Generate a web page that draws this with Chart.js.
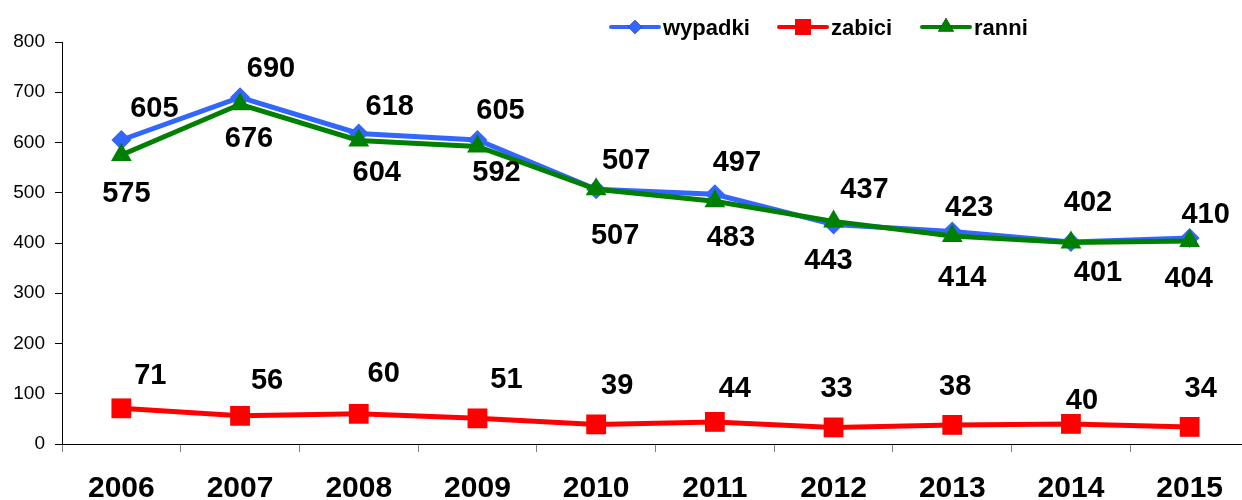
<!DOCTYPE html>
<html>
<head>
<meta charset="utf-8">
<script src="https://cdn.jsdelivr.net/npm/chart.js@4/dist/chart.umd.min.js"></script>
<style>
  html, body { margin: 0; padding: 0; background: #fff; overflow: hidden; }
  canvas { display: block; }
</style>
</head>
<body>
<canvas id="grafik" width="1251" height="500"></canvas>
<script>
var lata = ['2006', '2007', '2008', '2009', '2010', '2011', '2012', '2013', '2014', '2015'];
var wypadki = [605, 690, 618, 605, 507, 497, 437, 423, 402, 410];
var zabici = [71, 56, 60, 51, 39, 44, 33, 38, 40, 34];
var ranni = [575, 676, 604, 592, 507, 483, 443, 414, 401, 404];
var skalaY = [0, 100, 200, 300, 400, 500, 600, 700, 800];

var warna = {
	blue: '#3366FF',
	red: '#FF0000',
	green: '#008000'
};

// przesuniecia etykiet wzgledem punktow (px)
var przesun = [
	[[33,-32],[31,-29],[31,-27],[23,-30],[30,-29],[22,-32],[31,-35],[17,-24],[17,-40],[16,-24]],
	[[29,-33],[27,-36],[25,-41],[29,-39],[21,-39],[20,-34],[3,-39],[3,-39],[11,-24],[11,-39]],
	[[5,38],[9,34],[18,32],[19,25],[19,46],[16,36],[-5,39],[10,41],[27,30],[-1,37]]
];

var FONT = 'Arial, "Liberation Sans", sans-serif';

var etykiety = {
	id: 'etykiety',
	afterDatasetsDraw: function(chart) {
		var ctx = chart.ctx;
		ctx.save();
		ctx.fillStyle = '#000';
		ctx.font = 'bold 29px ' + FONT;
		ctx.textAlign = 'center';
		ctx.textBaseline = 'middle';
		chart.data.datasets.forEach(function(dataset, i) {
			var meta = chart.getDatasetMeta(i);
			meta.data.forEach(function(el, j) {
				var o = przesun[i][j];
				ctx.fillText(String(dataset.data[j]), el.x + o[0], el.y + o[1] + 1);
			});
		});
		ctx.restore();
	}
};

// legenda: linia + znacznik
var legenda = {
	id: 'legenda',
	afterDraw: function(chart) {
		var ctx = chart.ctx;
		var poz = [611, 779, 922];
		var rozm = [7, 11.3, 9.2];
		var y = 27;
		ctx.save();
		chart.data.datasets.forEach(function(ds, i) {
			var x = poz[i];
			ctx.strokeStyle = ds.borderColor;
			ctx.lineWidth = 4;
			ctx.lineCap = 'round';
			ctx.beginPath();
			ctx.moveTo(x, y);
			ctx.lineTo(x + 48, y);
			ctx.stroke();
			Chart.helpers.drawPoint(ctx, {
				pointStyle: ds.pointStyle,
				radius: rozm[i],
				rotation: 0,
				borderWidth: 0
			}, x + 24, y);
			ctx.fillStyle = ds.borderColor;
			ctx.fill();
			ctx.fillStyle = '#000';
			ctx.font = 'bold 22px ' + FONT;
			ctx.textAlign = 'left';
			ctx.textBaseline = 'middle';
			ctx.fillText(ds.label, x + 52, y + 2);
		});
		ctx.restore();
	}
};

new Chart(document.getElementById('grafik'), {
	type: 'line',
	data: {
		labels: lata,
		datasets: [
			{
				label: 'wypadki',
				data: wypadki,
				borderColor: warna.blue,
				backgroundColor: warna.blue,
				borderWidth: 5,
				pointStyle: 'rectRot',
				pointRadius: 10,
				pointBorderWidth: 0,
				order: 1
			},
			{
				label: 'zabici',
				data: zabici,
				borderColor: warna.red,
				backgroundColor: warna.red,
				borderWidth: 5,
				pointStyle: 'rect',
				pointRadius: 14,
				pointBorderWidth: 0,
				order: 2
			},
			{
				label: 'ranni',
				data: ranni,
				borderColor: warna.green,
				backgroundColor: warna.green,
				borderWidth: 5,
				pointStyle: 'triangle',
				pointRadius: 12,
				pointBorderWidth: 0,
				order: 0
			}
		]
	},
	options: {
		responsive: false,
		animation: false,
		layout: { autoPadding: false, padding: { top: 42, right: 2, left: 0, bottom: 0 } },
		plugins: {
			legend: { display: false },
			tooltip: { enabled: false }
		},
		scales: {
			x: {
				offset: true,
				grid: {
					offset: true,
					drawOnChartArea: false,
					tickLength: 8,
					color: '#808080',
					lineWidth: 1
				},
				border: { color: '#000', width: 1 },
				ticks: {
					color: '#000',
					font: { family: FONT, size: 30, weight: 'bold' },
					padding: 19,
					maxRotation: 0
				},
				afterFit: function(scale) { scale.height = 56; }
			},
			y: {
				min: 0,
				max: 800,
				afterBuildTicks: function(scale) {
					scale.ticks = skalaY.map(function(v) { return { value: v }; });
				},
				grid: {
					drawOnChartArea: false,
					tickLength: 7,
					color: '#000'
				},
				border: { color: '#000', width: 1 },
				ticks: {
					color: '#000',
					font: { family: FONT, size: 19 },
					padding: 10
				},
				afterFit: function(scale) { scale.width = 62; }
			}
		}
	},
	plugins: [etykiety, legenda]
});
</script>
</body>
</html>
